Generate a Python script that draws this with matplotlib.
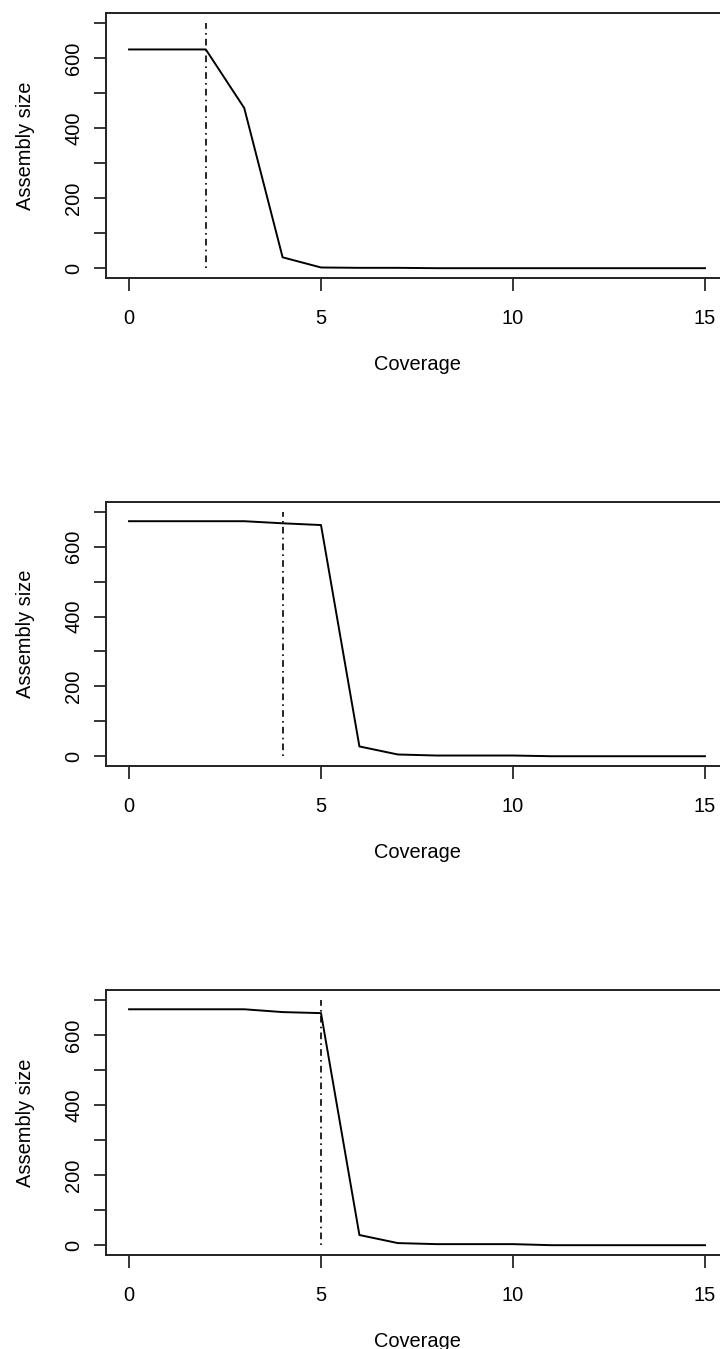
import numpy as np
import matplotlib
matplotlib.use("Agg")
import matplotlib.pyplot as plt

plt.rcParams['font.family'] = ['Liberation Sans', 'DejaVu Sans']

coverage = list(range(16))
size_a = [624, 624, 624, 457, 31, 2, 1, 1, 0, 0, 0, 0, 0, 0, 0, 0]
size_b = [673, 673, 673, 673, 667, 662, 28, 5, 2, 2, 2, 0, 0, 0, 0, 0]
size_c = [673, 673, 673, 673, 665, 662, 29, 6, 3, 3, 3, 0, 0, 0, 0, 0]
cutoffs = [2, 4, 5]

xticks = [0, 5, 10, 15]
yticks = [0, 200, 400, 600]
yminor = [100, 300, 500, 700]

W, H = 720, 1349
fig = plt.figure(figsize=(W / 100, H / 100), dpi=100)

# box positions in pixels: (top, bottom)
boxes = [(13, 278), (502, 766), (990, 1255)]
left, right = 106, 728

for (top, bot), sizes, cut in zip(boxes, [size_a, size_b, size_c], cutoffs):
    ax = fig.add_axes([left / W, (H - bot) / H, (right - left) / W, (bot - top) / H])
    ax.plot(coverage, sizes, color='black', lw=1.4)
    ax.plot([cut, cut], [0, 700], color='black', lw=1.2,
            linestyle=(0, (1, 2.5, 4, 2.5)))
    ax.set_xlim(-0.6, 15.6)
    ax.set_ylim(-28, 728)
    ax.set_xticks(xticks)
    ax.set_yticks(yticks)
    ax.set_yticks(yminor, minor=True)
    ax.set_xticklabels([str(t) for t in xticks])
    ax.set_yticklabels([str(t) for t in yticks], rotation=90, va='center')
    ax.tick_params(axis='both', which='both', direction='out', length=9,
                   width=1.1, labelsize=14.4, color='black')
    ax.tick_params(axis='x', pad=13)
    ax.tick_params(axis='y', pad=7.5)
    for sp in ax.spines.values():
        sp.set_linewidth(1.4)
        sp.set_color('#222222')
    ax.set_xlabel('Coverage', fontsize=14.4, labelpad=20)
    ax.set_ylabel('Assembly size', fontsize=14.4, labelpad=21)

fig.savefig('out.png', dpi=100)
